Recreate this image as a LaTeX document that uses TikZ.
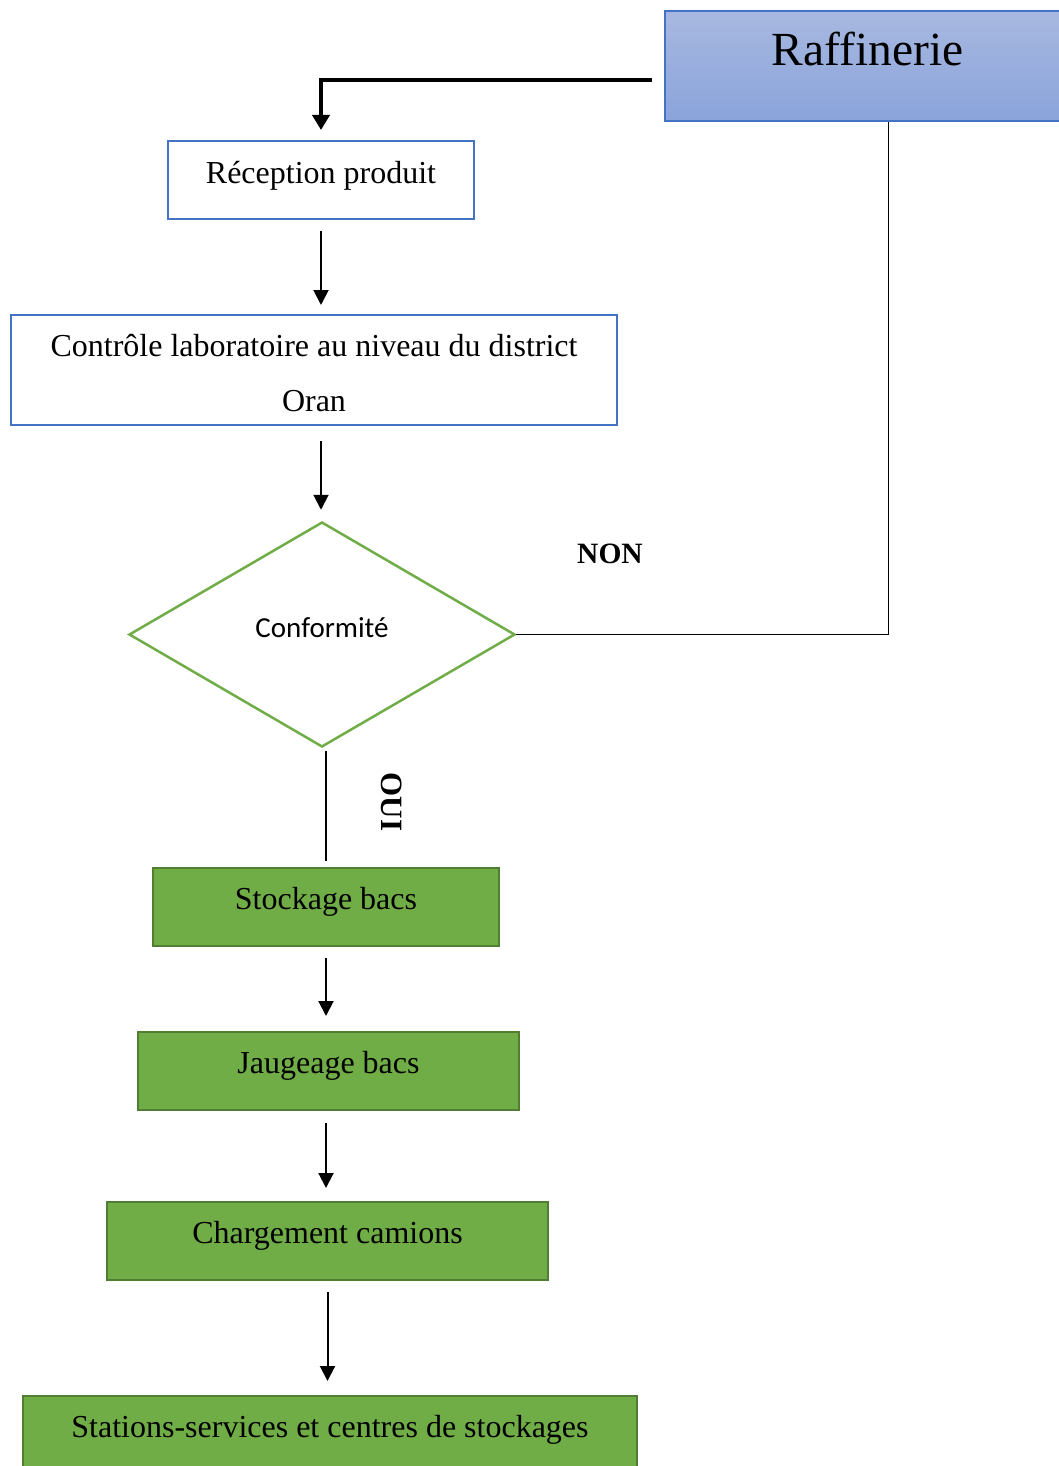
\documentclass[tikz,border=0pt]{standalone}
\usepackage{fontspec}
\setmainfont{Liberation Serif}
\newfontfamily\calibrifont{Carlito}
\usetikzlibrary{shapes.geometric,arrows.meta}
\definecolor{boxblue}{RGB}{68,114,196}
\definecolor{raffblue}{RGB}{168,184,224}
\definecolor{raffbluedark}{RGB}{138,164,219}
\definecolor{procgreen}{RGB}{112,173,71}
\definecolor{procgreendark}{RGB}{80,126,50}

\begin{document}
\begin{tikzpicture}[x=1pt, y=-1pt,
  every node/.style={inner sep=0pt, font=\fontsize{32}{55}\selectfont},
  bluebox/.style={draw=boxblue, line width=2pt, fill=white, align=center},
  greenbox/.style={draw=procgreendark, line width=2pt, fill=procgreen, minimum height=78pt, text height=25pt, text depth=20pt},
  flow/.style={line width=2pt, -{Triangle[length=15pt,width=15pt]}},
  branch/.style={line width=1.5pt}]
\useasboundingbox (0,0) rectangle (1059,1466);

% raffinerie (box runs past the right edge)
\node[draw=boxblue, line width=1.5pt, top color=raffblue, bottom color=raffbluedark, minimum width=405pt, minimum height=110pt, text height=33pt, text depth=33pt, font=\fontsize{47.5}{55}\selectfont] (raff) at (867.5,66) {Raffinerie};

\node[bluebox, minimum width=306pt, minimum height=78pt, text height=25pt, text depth=19pt] (recep) at (321,180) {Réception produit};
\node[bluebox, minimum width=606pt, minimum height=110pt, text height=82pt, text depth=0pt] (ctrl) at (314,370) {Contrôle laboratoire au niveau du district\\Oran};

\node[diamond, draw=procgreen, line width=2.5pt, fill=white, minimum width=386pt, minimum height=225pt, text height=24pt, text depth=19pt, font=\calibrifont\fontsize{29}{35}\selectfont] (conf) at (322,634.5) {Conformité};

\node[greenbox, minimum width=346pt] (stock) at (326,907) {Stockage bacs};
\node[greenbox, minimum width=381pt] (jaug) at (328.5,1071) {Jaugeage bacs};
\node[greenbox, minimum width=441pt] (charg) at (327.5,1241) {Chargement camions};
\node[greenbox, minimum width=614pt] (stat) at (330,1435) {Stations-services et centres de stockages};

% labels of the decision
\node[font=\bfseries\fontsize{29.5}{35}\selectfont] (non) at (610,554) {NON};
\node[rotate=-90, font=\bfseries\fontsize{31}{35}\selectfont] (oui) at (392,802) {OUI};

% connectors
\draw[line width=4pt, -{Triangle[length=15pt,width=17pt]}] ([xshift=-12pt,yshift=-14pt]raff.west) -| ([yshift=10pt]recep.north);
\draw[flow] ([yshift=-11pt]recep.south) -- ([yshift=9pt]ctrl.north -| recep.south);
\draw[flow] ([yshift=-15pt]ctrl.south -| recep.south) -- ([yshift=11pt]conf.north -| recep.south);
\draw[branch] (conf.east) -| ([xshift=21pt]raff.south);
\draw[branch] ([yshift=-3pt]stock.north |- conf.south) -- ([yshift=6pt]stock.north);
\draw[flow] ([yshift=-11pt]stock.south) -- ([yshift=15pt]jaug.north -| stock.south);
\draw[flow] ([yshift=-12pt]jaug.south -| stock.south) -- ([yshift=13pt]charg.north -| stock.south);
\draw[flow] ([yshift=-11pt]charg.south) -- ([yshift=14pt]stat.north -| charg.south);
\end{tikzpicture}
\end{document}
